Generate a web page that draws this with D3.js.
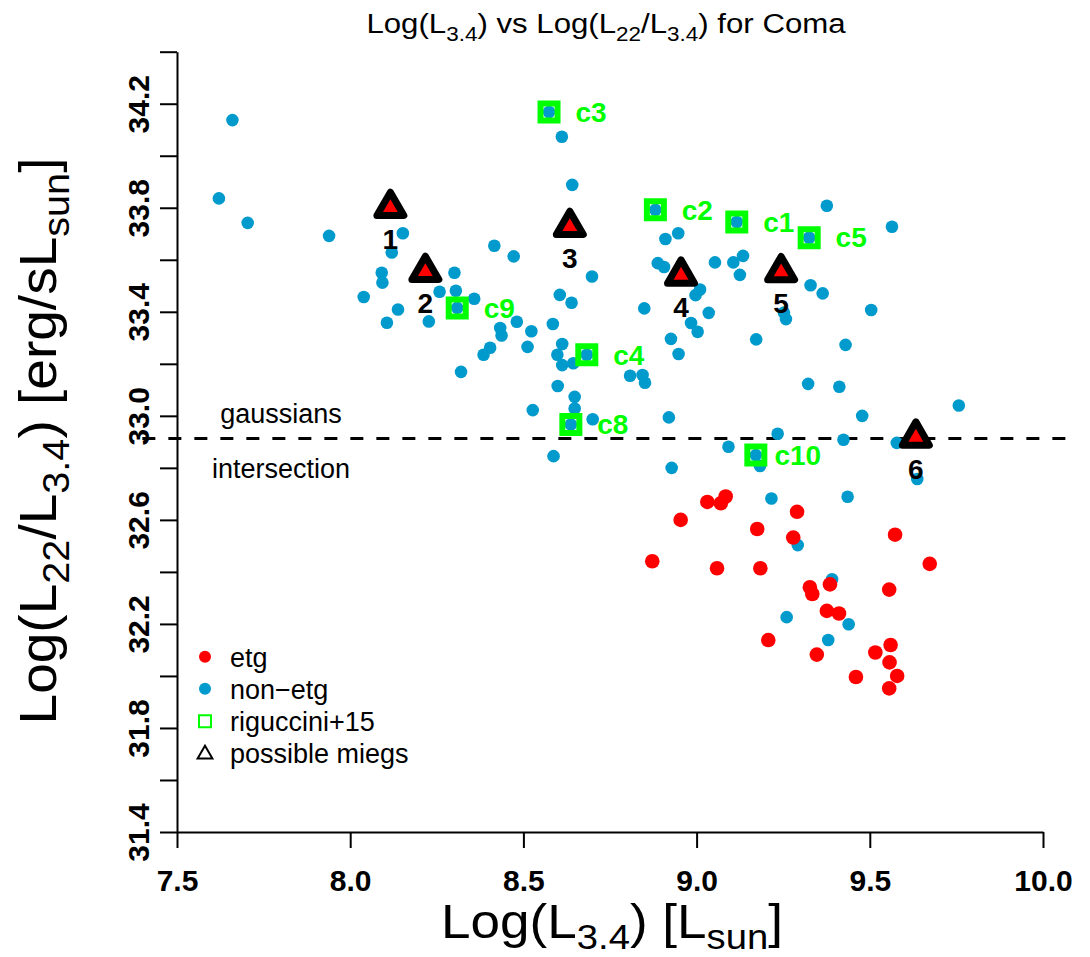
<!DOCTYPE html>
<html lang="en">
<head>
  <meta charset="UTF-8">
  <title>Log(L3.4) vs Log(L22/L3.4) for Coma</title>
  <script src="https://d3js.org/d3.v7.min.js"></script>
  <style>
    body { margin: 0; background: white; }
    svg { display: block; font-family: "Liberation Sans", Arial, sans-serif; }
  </style>
</head>
<body>
  <div id="chart"></div>
  <script>
    // non-etg galaxies: log(L3.4), log(L22/L3.4)
    const blueX = [7.660, 7.621, 7.704, 7.939, 8.152, 8.120, 8.091, 8.093, 8.039, 8.138,
      8.106, 8.227, 8.301, 8.258, 8.305, 8.358, 8.309, 8.416, 8.472, 8.433,
      8.437, 8.481, 8.523, 8.512, 8.404, 8.385, 8.320, 8.574, 8.611, 8.641,
      8.698, 8.605, 8.639, 8.585, 8.612, 8.598, 8.612, 8.644, 8.683, 8.808,
      8.844, 8.851, 8.881, 8.947, 8.910, 8.888, 8.906, 9.010, 8.997, 8.849,
      9.035, 8.984, 9.003, 8.926, 8.948, 9.116, 9.053, 9.106, 9.134, 9.125,
      9.252, 9.258, 9.325, 9.376, 9.564, 9.329, 9.364, 9.504, 9.172, 9.430,
      9.322, 9.412, 9.757, 9.478, 8.920, 9.234, 9.424, 9.578, 9.092, 9.171,
      9.183, 8.928, 9.637, 9.216, 9.436, 9.292, 9.391, 9.260, 9.439, 9.380,
      8.599, 8.648, 8.648, 8.527, 8.700, 8.637, 8.587];
    const blueY = [34.137, 33.836, 33.742, 33.692, 33.702, 33.628, 33.550, 33.512, 33.457, 33.409,
      33.358, 33.363, 33.550, 33.477, 33.481, 33.450, 33.415, 33.654, 33.613, 33.338,
      33.309, 33.362, 33.325, 33.265, 33.262, 33.235, 33.169, 34.168, 34.073, 33.888,
      33.536, 33.465, 33.435, 33.353, 33.276, 33.235, 33.195, 33.202, 33.235, 33.154,
      33.157, 33.127, 33.792, 33.702, 33.680, 33.587, 33.572, 33.486, 33.464, 33.413,
      33.396, 33.357, 33.323, 33.296, 33.238, 33.745, 33.590, 33.590, 33.615, 33.542,
      33.397, 33.372, 33.685, 33.808, 33.727, 33.502, 33.471, 33.407, 33.294, 33.273,
      33.123, 33.112, 33.040, 33.000, 32.994, 32.931, 32.908, 32.896, 32.881, 32.849,
      32.807, 32.800, 32.757, 32.682, 32.689, 32.503, 32.372, 32.226, 32.199, 32.138,
      33.115, 33.073, 33.028, 33.022, 32.987, 32.967, 32.845];

    // etg galaxies
    const redX = [9.031, 9.070, 9.084, 8.954, 9.290, 9.175, 9.279, 9.573, 8.872, 9.059,
      9.184, 9.673, 9.327, 9.334, 9.385, 9.556, 9.376, 9.411, 9.207, 9.347,
      9.516, 9.560, 9.557, 9.579, 9.460, 9.556];
    const redY = [32.669, 32.664, 32.690, 32.600, 32.631, 32.565, 32.532, 32.543, 32.441, 32.414,
      32.414, 32.431, 32.341, 32.315, 32.352, 32.332, 32.250, 32.240, 32.138, 32.082,
      32.090, 32.119, 32.052, 32.000, 31.996, 31.952];

    // riguccini+15 matches
    const rigNames = ["c1", "c2", "c3", "c4", "c5", "c8", "c9", "c10"];
    const rigX = [9.116, 8.881, 8.574, 8.683, 9.325, 8.637, 8.309, 9.171];
    const rigY = [33.745, 33.792, 34.168, 33.235, 33.685, 32.967, 33.415, 32.849];

    // possible miegs
    const miegNames = ["1", "2", "3", "4", "5", "6"];
    const miegX = [8.116, 8.217, 8.634, 8.955, 9.244, 9.633];
    const miegY = [33.800, 33.554, 33.727, 33.540, 33.553, 32.917];

    const gaussCut = 32.913;

    const xTicks = [7.5, 8.0, 8.5, 9.0, 9.5, 10.0];
    const yTicks = [31.4, 31.6, 31.8, 32.0, 32.2, 32.4, 32.6, 32.8, 33.0, 33.2, 33.4, 33.6, 33.8, 34.0, 34.2, 34.4];
    const yLabelled = [31.4, 31.8, 32.2, 32.6, 33.0, 33.4, 33.8, 34.2];

    const legendLabels = ["etg", "non\u2212etg", "riguccini+15", "possible miegs"];

    const W = 1090, H = 957;
    const BLUE = "#009ACD", RED = "#FF0000", GREEN = "#00FF00";

    const x = d3.scaleLinear().domain([7.5, 10]).range([177, 1043]);
    const y = d3.scaleLinear().domain([31.4, 34.4]).range([832, 51.7]);

    const svg = d3.select("#chart").append("svg")
      .attr("width", W).attr("height", H);

    // rich text with subscripts, stretched to a given width
    function richText(g, parts, fs, shift) {
      const t = g.append("text").attr("font-size", fs).attr("text-anchor", "middle").attr("fill", "black");
      let cur = 0;
      parts.forEach(([s, sub]) => {
        const target = sub ? fs * shift : 0;
        t.append("tspan").attr("dy", target - cur).attr("font-size", sub ? fs * 0.72 : fs).text(s);
        cur = target;
      });
      return t;
    }
    function fitted(parts, fs, cx, cy, width, rot, shift) {
      const g = svg.append("g");
      const t = richText(g, parts, fs, shift || 0.3);
      const w = t.node().getBBox().width;
      g.attr("transform", `translate(${cx},${cy})${rot ? " rotate(-90)" : ""} scale(${width / w},1)`);
    }

    // title and axis titles
    fitted([["Log(L"], ["3.4", 1], [") vs Log(L"], ["22", 1], ["/L"], ["3.4", 1], [") for Coma"]], 28, 606, 33, 480);
    fitted([["Log(L"], ["3.4", 1], [") [L"], ["sun", 1], ["]"]], 48, 612, 938, 342, false, 0.22);
    fitted([["Log(L"], ["22", 1], ["/L"], ["3.4", 1], [") [erg/sL"], ["sun", 1], ["]"]], 52, 56, 441, 567, true, 0.25);

    // axes
    const xAxis = svg.append("g")
      .attr("transform", `translate(0,${y(31.4)})`)
      .call(d3.axisBottom(x).tickValues(xTicks).tickSize(16).tickSizeOuter(0).tickFormat(d3.format(".1f")));
    const yAxis = svg.append("g")
      .attr("transform", `translate(${x(7.5)},0)`)
      .call(d3.axisLeft(y).tickValues(yTicks).tickSize(17).tickSizeOuter(0)
        .tickFormat(d => yLabelled.some(v => Math.abs(v - d) < 1e-6) ? d3.format(".1f")(d) : ""));

    [xAxis, yAxis].forEach(a => {
      a.selectAll("path, line").attr("stroke", "black").attr("stroke-width", 2);
      a.selectAll("text").attr("fill", "black").attr("font-size", 30).attr("font-weight", "bold")
        .attr("font-family", "'Liberation Sans', Arial, sans-serif");
    });
    xAxis.selectAll("text").attr("y", 59).attr("dy", null);
    yAxis.selectAll("text").attr("transform", "rotate(-90)").attr("x", 0).attr("y", -28)
      .attr("dy", null).attr("text-anchor", "middle");

    // gaussian intersection line
    svg.append("line")
      .attr("x1", x(7.4)).attr("x2", x(10.1))
      .attr("y1", y(gaussCut)).attr("y2", y(gaussCut))
      .attr("stroke", "black").attr("stroke-width", 3).attr("stroke-dasharray", "13,13");
    svg.append("text").attr("x", 281).attr("y", y(gaussCut) - 15.5).attr("text-anchor", "middle")
      .attr("font-size", 27).text("gaussians");
    svg.append("text").attr("x", 281).attr("y", y(gaussCut) + 39.5).attr("text-anchor", "middle")
      .attr("font-size", 27).text("intersection");

    // points
    svg.append("g").selectAll("circle")
      .data(d3.range(blueX.length))
      .join("circle")
      .attr("cx", i => x(blueX[i])).attr("cy", i => y(blueY[i]))
      .attr("r", 6.3).attr("fill", BLUE);

    svg.append("g").selectAll("circle")
      .data(d3.range(redX.length))
      .join("circle")
      .attr("cx", i => x(redX[i])).attr("cy", i => y(redY[i]))
      .attr("r", 7.3).attr("fill", RED);

    // riguccini squares + labels
    const sq = d3.symbol(d3.symbolSquare, 17 * 17);
    const rig = svg.append("g");
    rig.selectAll("path")
      .data(d3.range(rigX.length))
      .join("path")
      .attr("d", sq)
      .attr("transform", i => `translate(${x(rigX[i])},${y(rigY[i])})`)
      .attr("fill", "none").attr("stroke", GREEN).attr("stroke-width", 6);
    rig.selectAll("text")
      .data(d3.range(rigX.length))
      .join("text")
      .attr("x", i => x(rigX[i]) + 42).attr("y", i => y(rigY[i]) + 9.8)
      .attr("text-anchor", "middle").attr("font-size", 28).attr("font-weight", "bold")
      .attr("fill", GREEN).text(i => rigNames[i]);

    // possible miegs triangles + labels
    const tri = d3.symbol(d3.symbolTriangle, 315);
    const mg = svg.append("g");
    mg.selectAll("path")
      .data(d3.range(miegX.length))
      .join("path")
      .attr("d", tri)
      .attr("transform", i => `translate(${x(miegX[i])},${y(miegY[i])})`)
      .attr("fill", RED).attr("stroke", "black").attr("stroke-width", 7).attr("stroke-linejoin", "round");
    mg.selectAll("text")
      .data(d3.range(miegX.length))
      .join("text")
      .attr("x", i => x(miegX[i])).attr("y", i => y(miegY[i]) + 41.3)
      .attr("text-anchor", "middle").attr("font-size", 28).attr("font-weight", "bold")
      .attr("fill", "black").text(i => miegNames[i]);

    // legend
    const lg = svg.append("g").attr("transform", "translate(205,656.7)");
    const step = 32;
    lg.append("circle").attr("cx", 0).attr("cy", 0).attr("r", 6).attr("fill", RED);
    lg.append("circle").attr("cx", 0).attr("cy", step).attr("r", 6).attr("fill", BLUE);
    lg.append("path").attr("d", d3.symbol(d3.symbolSquare, 144)())
      .attr("transform", `translate(0,${2 * step + 0.6})`)
      .attr("fill", "none").attr("stroke", GREEN).attr("stroke-width", 2);
    lg.append("path").attr("d", d3.symbol(d3.symbolTriangle, 95)())
      .attr("transform", `translate(0,${3 * step + 1.5})`)
      .attr("fill", "none").attr("stroke", "black").attr("stroke-width", 2);
    lg.selectAll("text.leg")
      .data(legendLabels)
      .join("text")
      .attr("class", "leg")
      .attr("x", 25).attr("y", (d, i) => i * step + 10)
      .attr("font-size", 27).attr("fill", "black")
      .text(d => d);
  </script>
</body>
</html>
